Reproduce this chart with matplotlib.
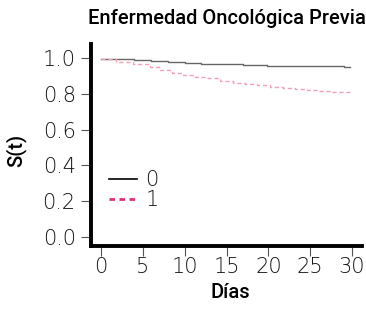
import numpy as np
import matplotlib.pyplot as plt
from matplotlib.lines import Line2D

# step times / survival for each group
t0 = [0, 4, 6, 8, 10, 12, 15, 17, 19.8, 23.8, 29, 29.8]
s0 = [0.995, 0.99, 0.984, 0.979, 0.974, 0.969, 0.965, 0.961, 0.957, 0.953, 0.948, 0.948]
t1 = [0, 1.8, 3.8, 5.8, 7, 8.5, 9.8, 11.2, 12.6, 14.2, 15.8, 17.2, 18.6, 20.2, 21.8, 23.2, 24.6, 26, 27.4, 28.6, 29.8]
s1 = [0.995, 0.98, 0.968, 0.95, 0.932, 0.918, 0.906, 0.896, 0.887, 0.874, 0.863, 0.854, 0.847, 0.839, 0.832, 0.826, 0.821, 0.816, 0.812, 0.808, 0.804]
labels = ['0', '1']
xticks = [0, 5, 10, 15, 20, 25, 30]
yticks = [0.0, 0.2, 0.4, 0.6, 0.8, 1.0]

plt.rcParams['font.family'] = ['DejaVu Sans']

fig = plt.figure(figsize=(3.66, 3.11), dpi=100)
ax = fig.add_axes([91/366, 1 - 246/311, 271/366, 202/311])

ax.step(t0, s0, where='post', color='#666666', lw=1.0)
ax.step(t1, s1, where='post', color='#f2a0b4', lw=1.0, ls=(0, (3, 2)))

ax.set_xlim(-1.2, 31.2)
ax.set_ylim(-0.05, 1.078)
ax.set_xticks(xticks)
ax.set_yticks(yticks)
ax.set_yticklabels([f'{v:.1f}' for v in yticks])

for side in ['top', 'right']:
    ax.spines[side].set_visible(False)
for side in ['left', 'bottom']:
    ax.spines[side].set_linewidth(2.8)
ax.tick_params(axis='both', length=7.5, width=0.8, color='#555555', labelcolor='#111111',
               labelsize=15)
ax.tick_params(axis='y', pad=3.5)
ax.tick_params(axis='x', pad=0.5)
for lab in ax.get_xticklabels() + ax.get_yticklabels():
    lab.set_fontweight('light')

handles = [Line2D([], [], color='black', lw=1.2),
           Line2D([], [], color='#e0307a', lw=2.0, ls=(0, (2, 1.6)))]
leg = ax.legend(handles, labels, loc='upper left', bbox_to_anchor=(0.066, 0.375), frameon=False,
                borderpad=0, borderaxespad=0, handlelength=1.35, handletextpad=0.4,
                labelspacing=0.0, prop={'size': 15, 'weight': 'light'}, labelcolor='#111111')

tfont = dict(fontsize=14.5, family=['Roboto', 'DejaVu Sans'], weight='medium')
fig.text(227/366, 1 - 18/311, 'Enfermedad Oncológica Previa', ha='center', va='center', **tfont)
fig.text(230/366, 1 - 293/311, 'Días', ha='center', va='center', **tfont)
fig.text(16/366, 1 - 150/311, 'S(t)', ha='center', va='center', rotation=90, **tfont)

fig.savefig('out.png', dpi=100)
